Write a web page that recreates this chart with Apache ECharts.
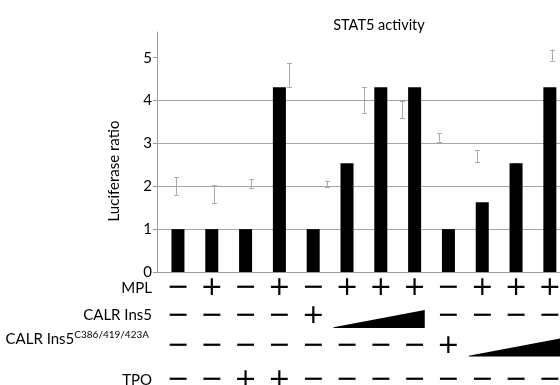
<!DOCTYPE html>
<html>
<head>
<meta charset="utf-8">
<script src="https://cdn.jsdelivr.net/npm/echarts@6/dist/echarts.min.js"></script>
<style>html,body{margin:0;padding:0;background:#fff}#c{width:560px;height:385px}</style>
</head>
<body>
<div id="c"></div>
<script>
// ---- data ----
const columns = [1,2,3,4,5,6,7,8,9,10,11,12];
const luciferase = [1, 1, 1, 4.31, 1, 2.54, 4.31, 4.31, 1, 1.63, 2.54, 4.31];
const errPos = [1,2,3,4,5,6,7,8,9,10,11];
const errLow  = [1.79, 1.61, 1.96, 4.32, 1.98, 3.71, 3.59, 3.04, 2.56, 2.49, 4.93];
const errHigh = [2.21, 2.03, 2.17, 4.88, 2.13, 4.32, 3.98, 3.24, 2.85, 2.54, 5.19];
const yTicks = [0, 1, 2, 3, 4, 5];
const rowLabels = ['MPL', 'CALR Ins5', 'CALR Ins5', 'TPO'];
const rowSup = ['', '', 'C386/419/423A', ''];
const rowMPL  = ['−','+','−','+','−','+','+','+','−','+','+','+'];
const rowIns5 = ['−','−','−','−','+','w','w','w','−','−','−','−'];
const rowMut  = ['−','−','−','−','−','−','−','−','+','w','w','w'];
const rowTPO  = ['−','−','+','+','−','−','−','−','−','−','−','−'];
const rows = [rowMPL, rowIns5, rowMut, rowTPO];
const titleText = 'STAT5 activity';
const yName = 'Luciferase ratio';

// ---- layout/style ----
const rowY = [288, 316, 346, 380];
const labelY = [288, 315.5, 339, 380.5];
const wedgeBottom = [null, 328, 356.5, null];
const FONT = 'Lato';

const signData = [];
const wedgeData = [];
rows.forEach((row, r) => {
  let start = null;
  row.forEach((s, c) => {
    if (s === 'w') { if (start === null) start = c + 1; }
    else {
      if (start !== null) { wedgeData.push([start, c, r]); start = null; }
      signData.push([c + 1, r, s]);
    }
  });
  if (start !== null) wedgeData.push([start, row.length, r]);
});

const chart = echarts.init(document.getElementById('c'), null, {renderer: 'canvas'});

const graphics = [];
rowLabels.forEach((lab, i) => {
  const txt = rowSup[i] ? '{b|' + lab + '}{s|' + rowSup[i] + '}' : '{b|' + lab + '}';
  graphics.push({
    type: 'text', x: rowSup[i] ? 149 : 152, y: labelY[i],
    style: {
      text: txt, align: 'right', verticalAlign: 'middle',
      rich: {
        b: {fontFamily: FONT, fontSize: 15, fill: '#000', lineHeight: 18},
        s: {fontFamily: FONT, fontSize: 10, fill: '#000', lineHeight: 18, verticalAlign: 'top', padding: [0,0,6,0]}
      }
    }
  });
});
graphics.push({
  type: 'text', x: 114, y: 171, rotation: Math.PI / 2,
  style: {text: yName, align: 'center', verticalAlign: 'middle', fontFamily: FONT, fontSize: 15, fill: '#000'}
});

chart.setOption({
  animation: false,
  title: {text: titleText, left: 374, top: 13, textAlign: 'center',
          textStyle: {fontFamily: FONT, fontSize: 14.5, fontWeight: 'normal', color: '#000'}},
  grid: {left: 157, top: 32, bottom: 113, right: 0, containLabel: false},
  xAxis: [
    {type: 'value', min: 0.38, max: 12.3, axisLine: {show: true, onZero: false, lineStyle: {color: '#999'}},
     axisTick: {show: false}, axisLabel: {show: false}, splitLine: {show: false}},
    {type: 'value', min: 0.495, max: 11.205, show: false}
  ],
  yAxis: {
    type: 'value', min: 0, max: 5.6, interval: 1,
    axisLine: {show: true, lineStyle: {color: '#999'}},
    axisTick: {show: true, length: 4, lineStyle: {color: '#999'}, customValues: yTicks},
    axisLabel: {customValues: yTicks, margin: 5, fontFamily: FONT, fontSize: 15, color: '#000'},
    splitLine: {show: true, showMaxLine: false, lineStyle: {color: '#a6a6a6'}}
  },
  graphic: graphics,
  series: [
    {type: 'bar', xAxisIndex: 0, barWidth: 13, itemStyle: {color: '#000'},
     data: columns.map((c, i) => [c, luciferase[i]]), z: 3},
    {type: 'custom', xAxisIndex: 1, z: 2,
     data: errPos.map((p, i) => [p, errLow[i], errHigh[i]]),
     renderItem: (params, api) => {
       const lo = api.coord([api.value(0), api.value(1)]);
       const hi = api.coord([api.value(0), api.value(2)]);
       const x = Math.round(lo[0]) + 0.5;
       const st = {stroke: '#ababab', lineWidth: 1};
       return {type: 'group', children: [
         {type: 'line', shape: {x1: x, y1: lo[1], x2: x, y2: hi[1]}, style: st},
         {type: 'line', shape: {x1: x - 2.5, y1: Math.round(lo[1]) + 0.5, x2: x + 2.5, y2: Math.round(lo[1]) + 0.5}, style: st},
         {type: 'line', shape: {x1: x - 2.5, y1: Math.round(hi[1]) + 0.5, x2: x + 2.5, y2: Math.round(hi[1]) + 0.5}, style: st}
       ]};
     }},
    {type: 'custom', xAxisIndex: 0, clip: false, silent: true,
     data: signData.map(d => [d[0], d[1]]),
     renderItem: (params, api) => {
       const d = signData[params.dataIndex];
       const x = api.coord([d[0], 0])[0];
       return {type: 'text', style: {text: d[2], x: x, y: rowY[d[1]], align: 'center', verticalAlign: 'middle',
               fontFamily: 'DejaVu Sans', fontSize: 27, fill: '#000'}};
     }},
    {type: 'custom', xAxisIndex: 0, clip: false, silent: true,
     data: wedgeData,
     renderItem: (params, api) => {
       const d = wedgeData[params.dataIndex];
       const xl = api.coord([d[0] - 0.4, 0])[0];
       const xr = api.coord([d[1] + 0.3, 0])[0];
       const yb = wedgeBottom[d[2]];
       return {type: 'polygon', shape: {points: [[xl, yb], [xr, yb], [xr, yb - 18], [xl, yb - 0.8]]},
               style: {fill: '#000'}};
     }}
  ]
});
</script>
</body>
</html>
